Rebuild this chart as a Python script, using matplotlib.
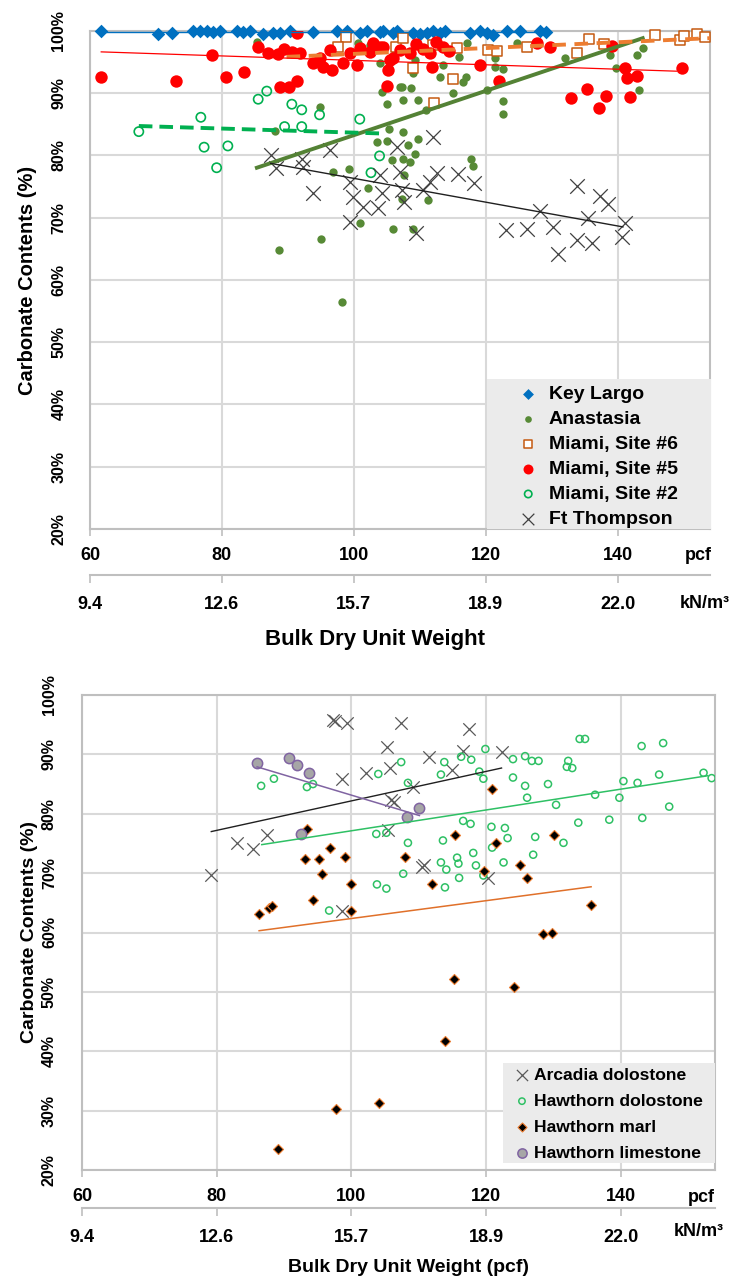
import numpy as np
import matplotlib.pyplot as plt
from matplotlib.ticker import FuncFormatter
from matplotlib.patches import Rectangle

plt.rcParams['font.family'] = ['Liberation Sans', 'DejaVu Sans']
plt.rcParams['font.weight'] = 'bold'

# unit axis labels (pcf and kN/m3 equivalents)
pcf_ticks = [60, 80, 100, 120, 140]
kn_labels = ['9.4', '12.6', '15.7', '18.9', '22.0']

# ---------------- upper chart: south Florida limestones ----------------
kl_x = [61.6, 70.3, 72.4, 75.6, 76.7, 77.7, 78.6, 79.7, 82.3, 83.2, 84.2, 86.2, 87.7,
        88.8, 90.3, 93.8, 97.4, 98.9, 100.9, 102.0, 103.9, 105.9, 104.4, 106.5, 108.9,
        110.0, 111.1, 112.0, 113.0, 113.8, 117.6, 119.1, 120.2, 121.1, 123.2, 125.2,
        128.2, 129.2]
kl_y = [99.9, 99.4, 99.6, 99.9, 99.9, 99.9, 99.8, 99.9, 99.9, 99.8, 99.9, 99.4, 99.6,
        99.7, 99.9, 99.8, 99.9, 99.9, 99.6, 99.9, 99.8, 99.6, 99.9, 99.9, 99.6,
        99.5, 99.7, 99.9, 99.6, 99.9, 99.7, 99.9, 99.6, 99.3, 99.9, 99.9,
        99.9, 99.8]

ana_x = [94.8, 88.0, 96.8, 99.2, 102.1, 101.0, 105.9, 95.0, 88.6, 103.5, 105.0, 105.3,
         105.8, 105.0, 104.2, 104.0, 85.3, 100.6, 107.0, 98.2, 117.1, 124.8, 116.0, 113.5,
         109.0, 113.0, 117.0, 116.5, 115.0, 107.3, 108.6, 107.4, 109.7, 110.9, 120.2,
         121.4, 121.4, 122.6, 122.6, 122.6, 132.0, 138.8, 139.8, 142.9, 143.8, 143.3,
         107.5, 108.2, 109.8, 109.2, 107.5, 108.5, 117.7, 118.0, 107.6, 107.3, 111.2,
         108.9, 102.4, 106.2, 109.2]
ana_y = [87.8, 83.9, 77.3, 77.8, 74.7, 69.2, 68.2, 66.6, 64.8, 82.1, 82.3, 84.2,
         79.2, 88.2, 90.2, 94.8, 98.2, 98.0, 91.0, 56.4, 98.0, 98.0, 95.8, 94.5,
         93.2, 92.6, 92.6, 91.8, 90.0, 91.0, 90.8, 88.8, 88.9, 87.3, 90.4,
         95.6, 94.2, 93.8, 88.7, 86.6, 95.6, 96.1, 94.0, 96.1, 97.2, 90.5,
         83.8, 81.7, 82.6, 80.2, 79.4, 79.0, 79.4, 78.3, 76.8, 73.0, 72.8,
         68.2, 97.7, 96.9, 95.3]

s6_x = [98.8, 97.6, 106.4, 107.4, 112.0, 115.6, 109.0, 115.0, 112.1, 120.3, 121.7,
        126.2, 133.8, 135.6, 137.9, 145.6, 149.4, 150.0, 152.1, 153.2]
s6_y = [99.0, 97.4, 97.4, 98.8, 97.7, 97.2, 94.0, 92.2, 88.4, 96.9, 96.8,
        97.4, 96.4, 98.7, 97.8, 99.3, 98.5, 99.1, 99.4, 99.0]

s5_x = [61.7, 73.0, 80.6, 83.3, 78.5, 85.5, 87.0, 88.5, 89.4, 90.6, 91.8, 88.8, 90.2,
        91.4, 91.4, 93.8, 95.3, 96.7, 94.8, 96.4, 98.4, 99.4, 100.5, 100.9, 102.9,
        103.9, 105.2, 105.0, 105.9, 102.4, 104.4, 107.0, 108.5, 105.5, 111.5, 111.8,
        113.5, 119.1, 122.0, 127.7, 129.7, 132.9, 135.3, 138.3, 137.1, 141.8, 141.4,
        141.1, 143.0, 139.1, 149.7, 109.5, 110.5, 114.5, 112.5]
s5_y = [92.6, 91.9, 92.6, 93.4, 96.1, 97.4, 96.4, 96.3, 97.0, 96.6, 96.4, 90.9, 91.0,
        91.9, 99.6, 94.8, 94.2, 93.7, 95.6, 96.9, 94.8, 96.4, 94.5, 97.2, 98.0,
        97.4, 93.7, 91.1, 95.6, 96.6, 97.4, 96.9, 96.4, 95.3, 96.4, 94.2,
        97.4, 94.5, 91.9, 98.0, 97.4, 89.2, 90.6, 89.5, 87.6, 89.4, 92.4,
        94.0, 92.7, 97.5, 94.0, 97.8, 97.0, 96.8, 98.2]

s2_x = [67.4, 76.8, 77.3, 80.9, 79.2, 85.5, 86.8, 90.6, 92.1, 94.8, 89.5, 92.1, 100.9,
        103.9, 102.6]
s2_y = [83.8, 86.1, 81.3, 81.5, 78.0, 89.0, 90.3, 88.2, 87.3, 86.5, 84.6, 84.6, 85.8,
        79.9, 77.2]

ft_x = [87.4, 88.2, 92.1, 92.3, 96.4, 93.8, 99.4, 99.8, 99.4, 101.4, 103.6, 104.2, 106.5,
        112.0, 104.0, 107.0, 107.3, 107.6, 110.5, 111.5, 112.6, 115.8, 118.2, 109.4,
        123.0, 126.2, 130.2, 128.2, 130.9, 133.9, 137.3, 138.5, 135.5, 133.9, 136.1,
        140.6, 141.1]
ft_y = [80.0, 78.0, 79.4, 78.1, 80.9, 73.9, 75.7, 73.3, 69.3, 71.7, 71.5, 73.9, 81.3,
        82.9, 76.8, 77.3, 74.4, 72.5, 74.4, 75.7, 77.1, 77.0, 75.6, 67.5,
        68.0, 68.2, 68.5, 71.0, 64.1, 75.0, 73.5, 72.1, 70.0, 66.4, 65.9,
        66.9, 69.1]

# trend line end points (x0, x1), (y0, y1)
kl_fit = ([61.6, 129.2], [99.8, 99.8])
ana_fit = ([85.3, 143.8], [78.0, 98.8])
s6_fit = ([89.8, 154.0], [95.8, 98.8])
s5_fit = ([61.7, 148.9], [96.6, 93.5])
s2_fit = ([67.4, 104.2], [84.7, 83.5])
ft_fit = ([87.4, 140.8], [78.7, 68.5])

# ---------------- lower chart: Arcadia / Hawthorn ----------------
arc_x = [97.6, 97.3, 99.4, 105.3, 98.6, 102.2, 105.8, 105.9, 105.5, 87.5, 83.0, 85.4,
         79.2, 98.6, 107.3, 117.4, 116.6, 111.6, 122.3, 115.0, 109.2, 110.5, 120.3,
         106.3, 110.8]
arc_y = [95.6, 95.8, 95.3, 91.3, 85.9, 86.9, 87.7, 82.4, 77.3, 76.5, 75.0, 74.1,
         69.7, 63.7, 95.3, 94.3, 90.6, 89.6, 90.4, 87.4, 84.5, 71.1, 69.1,
         82.0, 71.4]

hd_x = [86.6, 88.5, 93.4, 94.3, 104.0, 103.7, 105.2, 103.8, 105.2, 96.7, 107.4, 113.8,
        116.3, 117.8, 119.9, 113.3, 119.0, 119.6, 108.4, 124.0, 125.8, 126.8, 127.8,
        132.2, 132.0, 132.8, 133.9, 134.7, 124.0, 125.8, 129.2, 126.1, 130.4, 136.2,
        139.8, 140.4, 142.5, 145.7, 143.1, 146.3, 152.3, 153.5, 147.2, 133.7, 138.3,
        143.2, 116.6, 117.7, 120.8, 122.8, 123.2, 120.9, 127.3, 131.5, 113.6, 108.4,
        118.1, 115.7, 115.9, 113.3, 114.1, 118.5, 122.6, 127.0, 107.7, 116.0, 119.6,
        113.9]
hd_y = [84.7, 85.9, 84.5, 85.0, 86.7, 76.6, 76.8, 68.1, 67.4, 63.7, 88.7, 88.7,
        89.6, 89.1, 90.9, 86.6, 87.1, 85.9, 85.2, 89.2, 89.7, 88.9, 88.9,
        88.9, 87.9, 87.7, 92.6, 92.6, 86.1, 84.7, 85.0, 82.7, 81.5, 83.2,
        82.7, 85.5, 85.2, 86.6, 91.4, 91.9, 86.9, 86.0, 81.2, 78.5, 79.0,
        79.3, 78.8, 78.3, 77.8, 77.6, 75.9, 74.3, 76.1, 75.1, 75.5, 75.1,
        73.4, 72.6, 71.6, 71.8, 70.6, 71.3, 71.8, 73.1, 69.9, 69.2, 69.6,
        67.6]

marl_x = [93.4, 96.8, 93.1, 95.2, 99.1, 95.7, 100.0, 94.3, 100.0, 86.3, 87.8, 88.2,
          120.9, 115.4, 121.5, 130.1, 108.0, 119.7, 125.1, 126.1, 112.0, 135.6, 128.5,
          129.8, 115.3, 124.2, 113.9, 97.7, 104.1, 89.1]
marl_y = [77.5, 74.3, 72.4, 72.4, 72.8, 69.9, 68.1, 65.5, 63.7, 63.2, 64.2, 64.5,
          84.2, 76.5, 75.1, 76.5, 72.8, 70.3, 71.3, 69.2, 68.2, 64.7, 59.8,
          60.0, 52.1, 50.9, 41.8, 30.3, 31.3, 23.5]

lime_x = [86.0, 90.8, 91.9, 93.7, 92.5, 110.1, 108.3]
lime_y = [88.6, 89.4, 88.2, 86.9, 76.6, 81.0, 79.5]

arc_fit = ([79.2, 122.3], [77.0, 87.7])
hd_fit = ([86.7, 152.9], [74.8, 86.4])
marl_fit = ([86.3, 135.6], [60.3, 67.7])
lime_fit = ([86.0, 110.1], [87.9, 79.7])

GRID = '#D9D9D9'
EDGE = '#BFBFBF'


def base_axes(ax, sec_loc, ytick_pad):
    ax.set_xlim(60, 154)
    ax.set_ylim(20, 100)
    ax.set_xticks(pcf_ticks)
    ax.set_yticks(np.arange(20, 101, 10))
    ax.yaxis.set_major_formatter(FuncFormatter(lambda v, p: f'{v:.0f}%'))
    ax.grid(True, color=GRID, lw=1.5)
    ax.set_axisbelow(True)
    for s in ax.spines.values():
        s.set_color(EDGE)
        s.set_linewidth(1.5)
    ax.tick_params(axis='y', length=0, pad=ytick_pad, labelrotation=90, labelsize=11.5)
    ax.tick_params(axis='x', length=5, width=1.2, color=EDGE, pad=8, labelsize=13)
    for lab in ax.get_yticklabels():
        lab.set_va('center')

    sec = ax.secondary_xaxis(sec_loc)
    sec.set_xticks(pcf_ticks, labels=kn_labels)
    for s in sec.spines.values():
        s.set_color(EDGE)
        s.set_linewidth(1.5)
    sec.tick_params(axis='x', length=6, width=1.2, color=EDGE, pad=9, labelsize=13)
    return sec


fig = plt.figure(figsize=(7.33, 12.8), dpi=100)
W, H = 733, 1280

# ---- upper chart ----
ax1 = fig.add_axes([90 / W, 1 - 529 / H, 620 / W, 498.3 / H])
base_axes(ax1, -0.092, 17)

ax1.scatter(kl_x, kl_y, marker='D', s=48, color='#0070C0', lw=0, zorder=3,
            clip_on=False, label='Key Largo')
ax1.scatter(ana_x, ana_y, marker='o', s=36, color='#578A36', lw=0, zorder=3,
            label='Anastasia')
ax1.scatter(s6_x, s6_y, marker='s', s=58, facecolor='white', edgecolor='#C55A11',
            lw=1.1, zorder=3, clip_on=False, label='Miami, Site #6')
ax1.scatter(s5_x, s5_y, marker='o', s=80, color='#FF0000', lw=0, zorder=3,
            label='Miami, Site #5')
ax1.scatter(s2_x, s2_y, marker='o', s=44, facecolor='none', edgecolor='#00B050',
            lw=1.2, zorder=3, label='Miami, Site #2')
ax1.scatter(ft_x, ft_y, marker='x', s=110, color='#404040', lw=0.9, zorder=3,
            label='Ft Thompson')

ax1.plot(*kl_fit, color='#0070C0', lw=1.0, zorder=4)
ax1.plot(*ana_fit, color='#548235', lw=2.8, zorder=4)
ax1.plot(*s6_fit, color='#ED7D31', lw=2.8, dashes=(3.5, 2.2), zorder=4)
ax1.plot(*s5_fit, color='#FF0000', lw=0.9, zorder=4)
ax1.plot(*s2_fit, color='#00B050', lw=2.8, dashes=(3.5, 1.8), zorder=4)
ax1.plot(*ft_fit, color='#202020', lw=1.0, zorder=4)

ax1.add_patch(Rectangle(((487 - 90) / 620, 0), (711 - 487) / 620, (529 - 379) / 498.3,
                        transform=ax1.transAxes, facecolor='#EBEBEB', edgecolor='none',
                        zorder=4.5, clip_on=False))
leg1 = ax1.legend(loc='upper left', bbox_to_anchor=(0.688, 0.288), frameon=False,
                  borderpad=0, borderaxespad=0, handlelength=1.2, handletextpad=0.45,
                  labelspacing=0.38, markerscale=0.8,
                  prop={'weight': 'bold', 'size': 14})
leg1.set_zorder(5)

fig.text(712 / W, 1 - 556 / H, 'pcf', ha='right', va='center', fontsize=13,
         weight='bold')
fig.text(730 / W, 1 - 603 / H, 'kN/m³', ha='right', va='center', fontsize=13,
         weight='bold')
fig.text(375 / W, 1 - 640 / H, 'Bulk Dry Unit Weight', ha='center', va='center',
         fontsize=16, weight='bold')
fig.text(28 / W, 1 - 280 / H, 'Carbonate Contents (%)', ha='center', va='center',
         rotation=90, fontsize=14.5, weight='bold')

# ---- lower chart ----
ax2 = fig.add_axes([82 / W, 1 - 1170 / H, 633 / W, 475 / H])
base_axes(ax2, -0.08, 18)

ax2.scatter(arc_x, arc_y, marker='x', s=80, color='#595959', lw=0.9, zorder=3,
            label='Arcadia dolostone')
ax2.scatter(hd_x, hd_y, marker='o', s=26, facecolor='none', edgecolor='#2EC064',
            lw=1.1, zorder=3, label='Hawthorn dolostone')
ax2.scatter(marl_x, marl_y, marker='D', s=26, facecolor='black', edgecolor='#ED7D31',
            lw=0.8, zorder=3, label='Hawthorn marl')
ax2.scatter(lime_x, lime_y, marker='o', s=55, facecolor='#A6A6A6', edgecolor='#8064A2',
            lw=1.1, zorder=3, label='Hawthorn limestone')

ax2.plot(*arc_fit, color='#202020', lw=1.0, zorder=4)
ax2.plot(*hd_fit, color='#2EC064', lw=1.1, zorder=4)
ax2.plot(*marl_fit, color='#E0702A', lw=1.1, zorder=4)
ax2.plot(*lime_fit, color='#8064A2', lw=1.1, zorder=4)

ax2.add_patch(Rectangle(((503 - 82) / 633, (1170 - 1163) / 475), (715 - 503) / 633,
                        (1163 - 1063) / 475, transform=ax2.transAxes,
                        facecolor='#EBEBEB', edgecolor='none', zorder=4.5, clip_on=False))
leg2 = ax2.legend(loc='upper left', bbox_to_anchor=(0.684, 0.216), frameon=False,
                  borderpad=0, borderaxespad=0, handlelength=0.8, handletextpad=0.3,
                  labelspacing=0.62, markerscale=0.9,
                  prop={'weight': 'bold', 'size': 12.6})
leg2.set_zorder(5)

fig.text(715 / W, 1 - 1197 / H, 'pcf', ha='right', va='center', fontsize=13,
         weight='bold')
fig.text(724 / W, 1 - 1232 / H, 'kN/m³', ha='right', va='center', fontsize=13,
         weight='bold')
fig.text(408 / W, 1 - 1267 / H, 'Bulk Dry Unit Weight (pcf)', ha='center', va='center',
         fontsize=14, weight='bold')
fig.text(30 / W, 1 - 932 / H, 'Carbonate Contents (%)', ha='center', va='center',
         rotation=90, fontsize=14, weight='bold')

fig.savefig('out.png', dpi=100)
